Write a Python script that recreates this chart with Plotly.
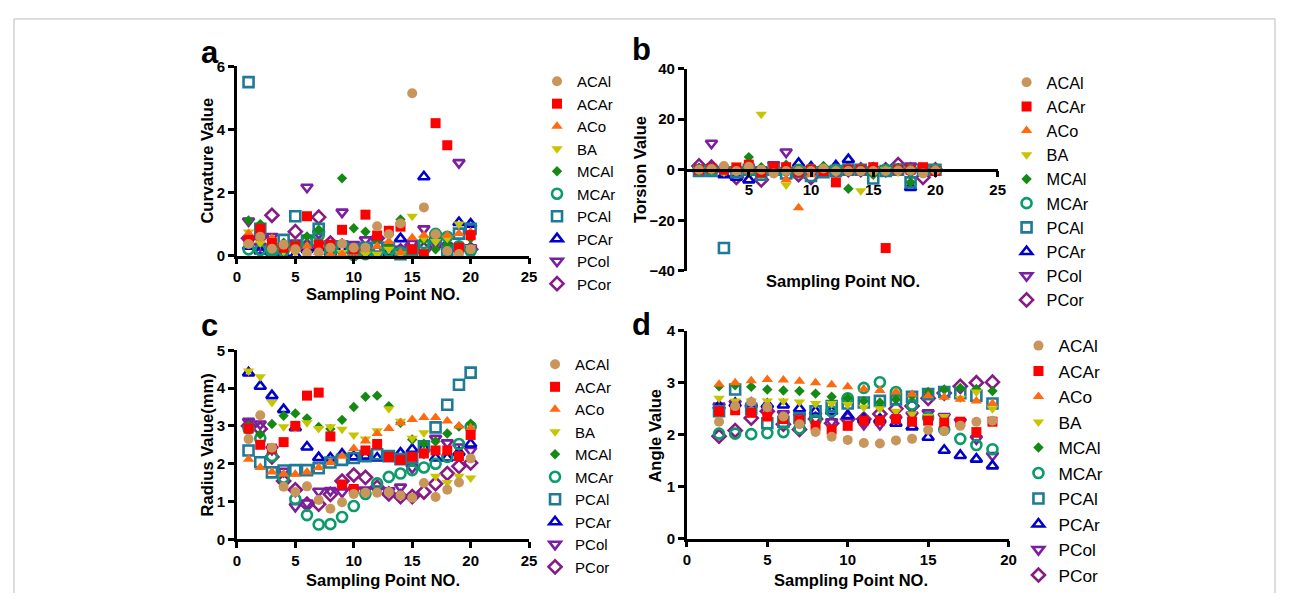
import plotly.graph_objects as go

# ---------------- data ----------------
series = ["ACAl", "ACAr", "ACo", "BA", "MCAl", "MCAr", "PCAl", "PCAr", "PCol", "PCor"]
x_abc = list(range(1, 21))
x_d = list(range(2, 20))

curvature = {
    "ACAl": [0.37, 0.60, 0.22, 0.35, 0.20, 0.08, 0.10, 0.25, 0.38, 0.25, 0.25, 0.93, 0.68, 1.02, 5.15, 1.53, 0.68, 0.15, 0.05, 0.20],
    "ACAr": [0.50, 0.85, 0.40, 0.25, 0.30, 1.25, 0.35, 0.35, 0.82, 0.20, 1.30, 0.64, 0.79, 0.92, 0.20, 0.05, 4.20, 3.50, 0.25, 0.65],
    "ACo":  [0.70, 0.60, 0.55, 0.30, 0.25, 0.30, 0.10, 0.05, 0.05, 0.10, 0.20, 0.30, 0.45, 0.10, 0.57, 0.65, 0.70, 0.65, 0.70, 0.75],
    "BA":   [0.75, 0.40, 0.30, 0.15, 0.10, 0.05, 0.20, 0.20, 0.10, 0.15, 0.05, 0.05, 0.20, 0.05, 1.25, 0.55, 0.45, 0.55, 1.00, 0.25],
    "MCAl": [1.12, 1.00, 0.50, 0.40, 0.35, 0.61, 0.82, 0.30, 2.45, 0.87, 0.76, 0.50, 0.30, 1.15, 0.20, 0.50, 0.20, 0.35, 0.30, 0.55],
    "MCAr": [0.20, 0.18, 0.15, 0.15, 0.30, 0.45, 0.65, 0.10, 0.20, 0.02, 0.05, 0.10, 0.15, 0.10, 0.15, 0.40, 0.69, 0.60, 0.30, 0.15],
    "PCAl": [5.50, 0.85, 0.20, 0.50, 1.25, 0.48, 0.85, 0.30, 0.30, 0.20, 0.25, 0.25, 0.25, 0.05, 0.10, 0.30, 0.55, 0.15, 0.70, 0.85],
    "PCAr": [0.30, 0.15, 0.10, 0.05, 0.02, 0.20, 0.25, 0.10, 0.20, 0.15, 0.10, 0.20, 0.10, 0.54, 0.15, 2.50, 0.60, 0.30, 1.05, 1.00],
    "PCol": [1.10, 0.30, 0.61, 0.30, 0.40, 2.17, 0.70, 0.30, 1.38, 0.35, 0.50, 0.50, 0.25, 0.20, 0.39, 0.85, 0.40, 0.30, 2.95, 0.25],
    "PCor": [0.55, 0.60, 1.28, 0.30, 0.76, 0.30, 1.22, 0.40, 0.30, 0.20, 0.15, 0.55, 0.20, 0.15, 0.35, 0.20, 0.35, 0.30, 0.20, 0.20],
}

torsion = {
    "ACAl": [0, 0.3, 1.5, -0.5, 1.2, 0, -1.5, -0.5, -0.5, -0.5, 0.5, -0.5, -0.5, -0.5, -0.5, -0.5, -0.3, -0.3, -1.5, -0.3],
    "ACAr": [0, 0.5, 0, 0.8, 2, -1, 1, 1, -1, 0, -0.5, -5, 0, 0, 1, -31, 0, 0, 1, -0.5],
    "ACo":  [0, 0, 0, -1, -0.5, 0, 0, -4, -15, -2, -0.5, 0, 0, 0, 0.5, 0, 0, -0.5, 0, 0],
    "BA":   [0, 0, -1, 2, 0, 22, 0, -6, 0, 0, 0, -1, 0, -8.3, 0, 0, -1, 0, 0, 0],
    "MCAl": [0, 0, 0, 0, 5, 1, 0, 2, 0, 0, 1.5, 0, -7.5, 0, -2, 0, 0, -5, 0, 0],
    "MCAr": [0, 0, 0, 0, 0, -1, 0, 0, 0, 0, 0, 0, 0, 0, 0, 0, 0, 0, 0, 0],
    "PCAl": [-0.5, -0.5, -31, -1, 0, -2, 0, -1.5, -1, -2.5, -1, -0.5, 0, 0, -3.5, -0.5, 0, -5, 0, 0],
    "PCAr": [0, 0, -2, -3, -4, -1, 0, 0, 2.5, 1, 0, 1.5, 4, 0, 0, 0, 0, -7, 0, 0],
    "PCol": [0, 10.5, 0, 0, 0, 0, 2, 7, 0, 0, 0, 0, 0, 0, 0, 0, 1, 1.5, 0, 0],
    "PCor": [1.5, 1, 0, -3, 0, -4, 0, 0, -2, -3, 0, 0, 0, 0, 0, 0, 2, 0, -3, 0],
}

radius = {
    "ACAl": [2.65, 3.28, 2.42, 1.39, 1.25, 1.40, 1.04, 0.81, 0.98, 1.20, 1.23, 1.23, 1.25, 1.16, 1.10, 1.49, 1.12, 1.31, 1.50, 2.14],
    "ACAr": [2.93, 2.50, 2.40, 2.57, 3.00, 3.80, 3.88, 2.72, 1.45, 1.33, 2.35, 2.52, 2.18, 2.10, 2.18, 2.27, 2.35, 2.35, 2.20, 2.76],
    "ACo":  [2.12, 1.90, 1.78, 1.73, 1.72, 1.78, 1.90, 2.03, 2.20, 2.40, 2.60, 2.80, 2.93, 3.08, 3.17, 3.22, 3.22, 3.13, 3.00, 2.95],
    "BA":   [4.45, 4.30, 3.62, 2.98, 2.95, 3.08, 2.93, 2.98, 2.91, 2.76, 2.65, 2.87, 3.45, 3.12, 2.67, 2.82, 1.67, 1.50, 1.67, 1.62],
    "MCAl": [3.00, 2.78, 3.05, 3.27, 3.33, 3.20, 2.97, 2.92, 3.16, 3.50, 3.77, 3.80, 3.52, 3.08, 2.64, 2.53, 2.59, 2.80, 2.98, 3.06],
    "MCAr": [2.93, 2.67, 2.20, 1.63, 1.06, 0.64, 0.39, 0.40, 0.59, 0.88, 1.20, 1.48, 1.65, 1.74, 1.83, 1.90, 2.00, 2.18, 2.52, 2.97],
    "PCAl": [2.35, 2.04, 1.77, 1.82, 1.83, 1.83, 1.88, 2.03, 2.10, 2.15, 2.20, 2.25, 2.20, 2.12, 2.15, 2.46, 2.96, 3.56, 4.09, 4.41],
    "PCAr": [4.40, 4.05, 3.80, 3.43, 2.95, 2.44, 2.16, 2.15, 2.25, 2.18, 2.20, 2.15, 2.18, 2.28, 2.38, 2.42, 2.15, 2.15, 2.30, 2.52],
    "PCol": [3.12, 3.05, 2.38, 1.80, 0.87, 0.96, 1.27, 1.29, 1.25, 1.30, 1.30, 1.33, 1.28, 1.38, 1.89, 2.30, 2.67, 2.55, 2.44, 2.35],
    "PCor": [3.00, 2.92, 2.18, 1.54, 1.31, 0.93, 0.93, 1.19, 1.54, 1.70, 1.64, 1.38, 1.20, 1.13, 1.13, 1.25, 1.47, 1.74, 1.93, 2.02],
}

angle = {
    "ACAl": [2.25, 2.55, 2.63, 2.53, 2.35, 2.20, 2.05, 1.96, 1.90, 1.84, 1.83, 1.89, 1.92, 2.09, 2.07, 2.17, 2.25, 2.27],
    "ACAr": [2.45, 2.47, 2.42, 2.35, 2.30, 2.28, 2.17, 2.10, 2.17, 2.27, 2.27, 2.30, 2.25, 2.27, 2.23, 2.25, 2.05, 2.25],
    "ACo":  [2.97, 3.00, 3.04, 3.06, 3.05, 3.03, 3.00, 2.96, 2.92, 2.88, 2.85, 2.82, 2.78, 2.75, 2.72, 2.68, 2.65, 2.60],
    "BA":   [2.70, 2.65, 2.65, 2.65, 2.65, 2.63, 2.60, 2.60, 2.58, 2.53, 2.50, 2.45, 2.40, 2.35, 2.35, 2.70, 2.82, 2.50],
    "MCAl": [2.93, 2.95, 2.92, 2.87, 2.85, 2.84, 2.79, 2.73, 2.70, 2.65, 2.62, 2.68, 2.75, 2.82, 2.87, 2.90, 2.88, 2.84],
    "MCAr": [2.02, 2.02, 2.01, 2.03, 2.05, 2.12, 2.28, 2.45, 2.70, 2.90, 3.01, 2.82, 2.58, 2.33, 2.10, 1.92, 1.80, 1.72],
    "PCAl": [2.45, 2.87, 2.50, 2.22, 2.25, 2.32, 2.45, 2.55, 2.60, 2.62, 2.65, 2.68, 2.73, 2.78, 2.82, 2.80, 2.75, 2.60],
    "PCAr": [2.55, 2.60, 2.60, 2.58, 2.57, 2.50, 2.45, 2.45, 2.37, 2.30, 2.30, 2.22, 2.15, 1.95, 1.70, 1.60, 1.53, 1.40],
    "PCol": [2.55, 2.60, 2.50, 2.50, 2.40, 2.35, 2.30, 2.25, 2.25, 2.20, 2.20, 2.30, 2.38, 2.42, 2.35, 2.25, 1.92, 1.60],
    "PCor": [1.97, 2.08, 2.32, 2.45, 2.20, 2.10, 2.30, 2.22, 2.30, 2.30, 2.40, 2.50, 2.55, 2.70, 2.80, 2.93, 3.00, 3.01],
}

tick_a_x = [0, 5, 10, 15, 20, 25]
tick_a_y = [0, 2, 4, 6]
tick_b_x = [5, 10, 15, 20, 25]
tick_b_y = [-40, -20, 0, 20, 40]
tick_c_y = [0, 1, 2, 3, 4, 5]
tick_d_x = [0, 5, 10, 15, 20]
tick_d_y = [0, 1, 2, 3, 4]

# ---------------- styles ----------------
colors = {
    "ACAl": "#C8965A", "ACAr": "#FF0000", "ACo": "#FF6A10", "BA": "#C8C400",
    "MCAl": "#148A14", "MCAr": "#0A9B6B", "PCAl": "#1E7A96", "PCAr": "#0000CC",
    "PCol": "#7B1FA2", "PCor": "#861B86",
}
symbols = {
    "ACAl": "circle", "ACAr": "square", "ACo": "triangle-up", "BA": "triangle-down",
    "MCAl": "diamond", "MCAr": "circle-open", "PCAl": "square-open",
    "PCAr": "triangle-up-open", "PCol": "triangle-down-open", "PCor": "diamond-open",
}
sizes = {
    "ACAl": 10, "ACAr": 10, "ACo": 10, "BA": 10, "MCAl": 8, "MCAr": 10,
    "PCAl": 10, "PCAr": 10, "PCol": 10, "PCor": 10,
}

FONT = "Liberation Sans, Arial, sans-serif"
# the page body has an 8px margin; the figure is sized so the page fits the window
OX, OY = 8, 8
W, H = 1277, 585


def px_x(p):
    return (p - OX) / W


def px_y(p):
    return 1 - (p - OY) / H


fig = go.Figure()

panels = [
    ("x", "y", x_abc, curvature, "legend"),
    ("x2", "y2", x_abc, torsion, "legend2"),
    ("x3", "y3", x_abc, radius, "legend3"),
    ("x4", "y4", x_d, angle, "legend4"),
]

for xa, ya, xs, data, leg in panels:
    for name in reversed(series):
        sym = symbols[name]
        marker = dict(symbol=sym, size=sizes[name], color=colors[name])
        if sym.endswith("open"):
            marker["line"] = dict(width=2.6, color=colors[name])
        else:
            marker["line"] = dict(width=0)
        fig.add_trace(go.Scatter(
            x=xs, y=data[name], mode="markers", name=name, marker=marker,
            xaxis=xa, yaxis=ya, legend=leg, cliponaxis=False,
        ))

axis_common = dict(
    showline=True, linecolor="black", linewidth=2.5, ticks="outside",
    ticklen=6, tickwidth=2.5, tickcolor="black", showgrid=False, zeroline=False,
    tickfont=dict(family=FONT, size=15, color="black", weight=700),
    mirror=False,
)
title_font = dict(family=FONT, size=16.5, color="black", weight=700)

# domains (pixel based, reference coordinates)
dom_a_x = [px_x(235), px_x(530)]
dom_a_y = [px_y(256), px_y(59.3)]
dom_b_x = [px_x(689), px_x(1003)]
dom_b_y = [px_y(271.7), px_y(61.7)]
dom_c_x = [px_x(235), px_x(530)]
dom_c_y = [px_y(550.7), px_y(354.3)]
dom_d_x = [px_x(689.3), px_x(1014)]
dom_d_y = [px_y(550), px_y(334)]

fig.update_layout(
    xaxis=dict(axis_common, domain=dom_a_x, range=[0, 25], tickvals=tick_a_x, anchor="y"),
    yaxis=dict(axis_common, domain=dom_a_y, range=[0, 6], tickvals=tick_a_y, anchor="x"),
    xaxis2=dict(axis_common, domain=dom_b_x, range=[0, 25], tickvals=tick_b_x,
                anchor="free", position=(dom_b_y[0] + dom_b_y[1]) / 2),
    yaxis2=dict(axis_common, domain=dom_b_y, range=[-40, 40], tickvals=tick_b_y, anchor="x2"),
    xaxis3=dict(axis_common, domain=dom_c_x, range=[0, 25], tickvals=tick_a_x, anchor="y3"),
    yaxis3=dict(axis_common, domain=dom_c_y, range=[0, 5], tickvals=tick_c_y, anchor="x3"),
    xaxis4=dict(axis_common, domain=dom_d_x, range=[0, 20], tickvals=tick_d_x, anchor="y4"),
    yaxis4=dict(axis_common, domain=dom_d_y, range=[0, 4], tickvals=tick_d_y, anchor="x4"),
)

legend_common = dict(traceorder="reversed", bgcolor="rgba(0,0,0,0)", borderwidth=0,
                     xanchor="left", yanchor="top", itemsizing="trace")
fig.update_layout(
    legend=dict(legend_common, x=px_x(538), y=px_y(57.8), font=dict(family=FONT, size=15, color="black")),
    legend2=dict(legend_common, x=px_x(1012), y=px_y(58), font=dict(family=FONT, size=16.3, color="black")),
    legend3=dict(legend_common, x=px_x(536), y=px_y(352), font=dict(family=FONT, size=15, color="black")),
    legend4=dict(legend_common, x=px_x(1024), y=px_y(331), font=dict(family=FONT, size=17.3, color="black")),
)

annotations = []
letters = [("a", 197, 45), ("b", 632, 42), ("c", 197, 329), ("d", 632, 328)]
for t, lx, ly in letters:
    annotations.append(dict(text=t, x=px_x(lx), y=px_y(ly), xref="paper", yref="paper",
                            xanchor="left", yanchor="middle", showarrow=False,
                            font=dict(family=FONT, size=31, color="black", weight=700)))

x_titles = [(383, 296), (847, 282), (383, 593), (855, 593)]
for tx, ty in x_titles:
    annotations.append(dict(text="Sampling Point NO.", x=px_x(tx), y=px_y(ty), xref="paper",
                            yref="paper", showarrow=False, xanchor="center", yanchor="middle",
                            font=title_font))

y_titles = [("Curvature Value", 205, 157), ("Torsion Value", 642, 167),
            ("Radius Value(mm)", 205, 453), ("Angle Value", 657, 443)]
for t, tx, ty in y_titles:
    annotations.append(dict(text=t, x=px_x(tx), y=px_y(ty), xref="paper", yref="paper",
                            showarrow=False, xanchor="center", yanchor="middle",
                            textangle=-90, font=title_font))

fig.update_layout(
    width=W, height=H, margin=dict(l=0, r=0, t=0, b=0),
    paper_bgcolor="white", plot_bgcolor="white",
    annotations=annotations,
    shapes=[dict(type="rect", xref="paper", yref="paper",
                 x0=px_x(10), x1=px_x(1283), y0=-0.05, y1=px_y(10),
                 line=dict(color="#BBBBBB", width=1), layer="below")],
)

fig.write_html("out.html")
